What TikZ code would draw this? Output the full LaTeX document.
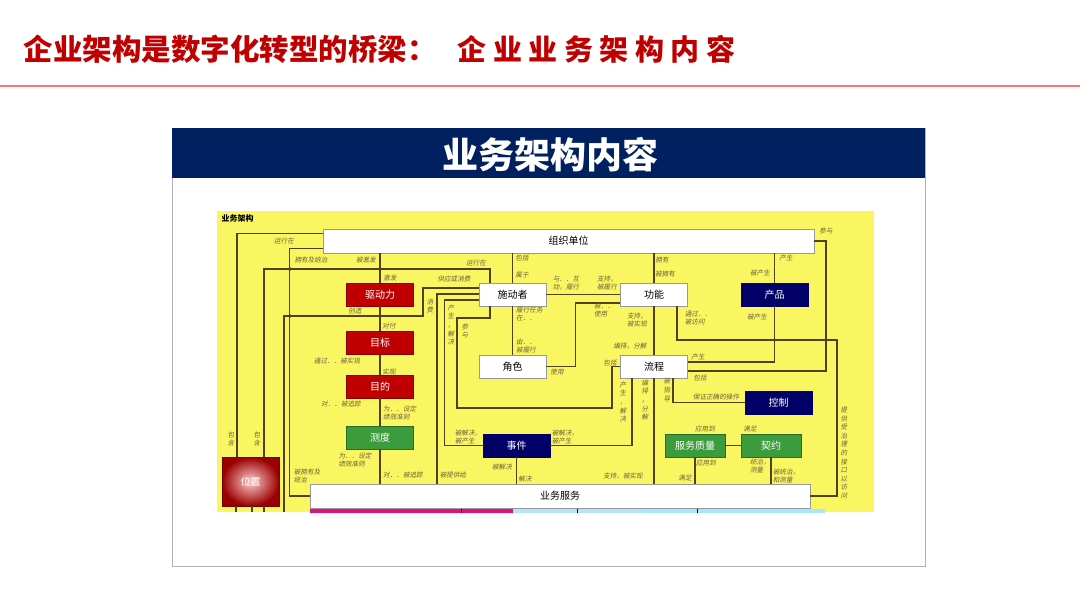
\documentclass[tikz,border=0pt]{standalone}
\usepackage{fontspec}
\setmainfont{Noto Sans CJK SC}
\newfontfamily\cjk{Noto Sans CJK SC}
\newfontfamily\cjkit[FakeSlant=0.18]{Noto Sans CJK SC}
\definecolor{titlered}{RGB}{192,0,0}
\definecolor{headnavy}{RGB}{0,32,96}
\definecolor{bgyellow}{RGB}{250,246,98}
\definecolor{boxred}{RGB}{192,0,0}
\definecolor{boxnavy}{RGB}{0,0,102}
\definecolor{boxgreen}{RGB}{60,155,60}
\definecolor{linec}{RGB}{80,65,25}
\definecolor{lblc}{RGB}{110,95,60}

\begin{document}
\begin{tikzpicture}[x=1pt, y=-1pt,
    box/.style={draw, minimum width=67pt, minimum height=23pt, inner sep=0pt, font=\cjk\fontsize{10}{12}\selectfont},
    whitebox/.style={box, fill=white, draw=gray!80},
    redbox/.style={box, fill=boxred, draw=boxred!70!black, text=white},
    navybox/.style={box, fill=boxnavy, draw=boxnavy, text=white},
    greenbox/.style={box, fill=boxgreen, draw=boxgreen!70!black, text=white},
    lbl/.style={font=\cjkit\fontsize{6.6}{7.6}\selectfont, text=lblc, inner sep=0pt, align=center},
    vlbl/.style={lbl, font=\cjkit\fontsize{6.6}{8.6}\selectfont},
    conn/.style={draw=linec, line width=1.2pt}]
            \useasboundingbox (0,0) rectangle (1080,608);
            \fill[white] (0,0) rectangle (1080,608);

            \node[anchor=west, text=titlered, font=\cjk\bfseries\fontsize{29.5}{32}\selectfont] (title) at (20,49) {企业架构是数字化转型的桥梁：};
            \node[anchor=west, text=titlered, font=\cjk\bfseries\fontsize{29}{32}\selectfont] (subtitle) at (454,49) {\spaceskip=6.5pt 企 业 业 务 架 构 内 容};
            \draw[red!55, line width=1.5pt] (0,86) -- (1080,86);

            \draw[gray!60, line width=0.8pt] (172,128) rectangle (925,566);
            \fill[headnavy] (172,128) rectangle (925,178);
            \node[text=white, font=\cjk\bfseries\fontsize{36}{40}\selectfont] (head) at (550,155) {业务架构内容};
            \fill[bgyellow] (217,211) rectangle (874,512);
            \node[anchor=west, font=\cjk\bfseries\fontsize{8}{9}\selectfont] (area) at (218,218) {业务架构};

            \node[whitebox, minimum width=491pt, minimum height=24pt] (org) at (568.5,241) {组织单位};
            \node[redbox] (drv) at (380,294.5) {驱动力};
            \node[whitebox] (act) at (512.5,294.5) {施动者};
            \node[whitebox] (fun) at (654,294.5) {功能};
            \node[navybox] (prd) at (774.5,294.5) {产品};
            \node[redbox] (gol) at (380,343) {目标};
            \node[redbox] (obj) at (380,386.5) {目的};
            \node[whitebox] (rol) at (512.5,366.5) {角色};
            \node[whitebox] (prc) at (654,366.5) {流程};
            \node[navybox] (ctl) at (778.5,402.5) {控制};
            \node[greenbox] (msr) at (380,437.5) {测度};
            \node[navybox] (evt) at (516.5,445.5) {事件};
            \node[greenbox, minimum width=60pt] (qos) at (695,445.5) {服务质量};
            \node[greenbox, minimum width=60pt] (ctr) at (771,445.5) {契约};
            \node[whitebox, minimum width=500pt, minimum height=24pt] (bsv) at (560,496) {业务服务};
            \node[box, minimum width=57pt, minimum height=49pt, shading=radial, inner color=white!80!red, outer color=boxred!80!black, draw=boxred!60!black, text=white] (loc) at (250.5,481.5) {位置};

            \fill[magenta!75!purple] (310,508.5) rectangle (513,512.5);
            \fill[cyan!30] (513,508.5) rectangle (640,512.5);
            \fill[blue!25!cyan!35] (640,508.5) rectangle (825,512.5);
            \foreach \x in {461,577,697}
            {
                \draw[black, line width=1pt] (\x,508.5) -- (\x,512.5);
            }

            \draw[conn] ([yshift=-5pt]org.north west) -| ([xshift=-13.5pt]loc.north);
            \draw[conn] ([yshift=5pt]org.south west) -| ([xshift=-20pt]bsv.west) -- (bsv.west);
            \draw[conn] ([xshift=-22.5pt]act.north) |- (264,269) -- ([xshift=13.5pt]loc.north);
            \draw[conn] (drv.north |- org.south) -- (drv.north);
            \draw[conn] (drv) -- (gol);
            \draw[conn] (gol) -- (obj);
            \draw[conn] (obj) -- (msr);
            \draw[conn] (msr.south) -- (msr.south |- bsv.north);
            \draw[conn] ([yshift=6.5pt]act.west) -| (423,316) -| (284,512);
            \draw[conn] ([yshift=0.5pt]act.west) -| (437,0 |- bsv.north);
            \draw[conn] ([yshift=-5.5pt]act.west) -| ([xshift=-38pt]evt.west) -- (evt.west);
            \draw[conn] ([xshift=-22.5pt]act.south) |- (457,318) |- (612,408) |- (prc.west);
            \draw[conn] (act.north |- org.south) -- (act.north);
            \draw[conn] (act) -- (rol);
            \draw[conn] (act) -- (fun);
            \draw[conn] (rol.east) -| ([xshift=-45pt,yshift=-8.5pt]fun.west) -- ([yshift=-8.5pt]fun.west);
            \draw[conn] (fun.north |- org.south) -- (fun.north);
            \draw[conn] (fun) -- (prc);
            \draw[conn] ([xshift=23pt]fun.south) |- (837,340) |- (bsv.east);
            \draw[conn] (prd.north |- org.south) -- (prd.north);
            \draw[conn] (prd.south) |- ([yshift=4.5pt]prc.east);
            \draw[conn] (org.east) -| (826,371) -- ([yshift=-4.5pt]prc.east);
            \draw[conn] ([xshift=19pt]prc.south) |- (ctl.west);
            \draw[conn] ([xshift=-22pt]prc.south) |- (evt.east);
            \draw[conn] (prc.south) -- (prc.south |- bsv.north);
            \draw[conn] (evt.south) -- (evt.south |- bsv.north);
            \draw[conn] (qos) -- (ctr);
            \draw[conn] (qos.south) -- (qos.south |- bsv.north);
            \draw[conn] (ctr.south) -- (ctr.south |- bsv.north);
            \foreach \dx in {-14.5,1.5,13.5}
            {
                \draw[conn] ([xshift=\dx pt]loc.south) -- ++(0,5.5);
            }
            \foreach \p in {{290,269},{380,269},{290,316},{380,316},{774.5,340},{826,340}}
            {
                \fill[linec] (\p) circle (1.8);
            }

            \node[lbl] (t1) at (284,241) {运行在};
            \node[lbl] (t2) at (311,260) {拥有及统治};
            \node[lbl] (t3) at (366,260) {被激发};
            \node[lbl] (t4) at (390,278) {激发};
            \node[lbl] (t5) at (454,279) {供应或消费};
            \node[lbl] (t6) at (476,263) {运行在};
            \node[lbl] (t7) at (522,258) {包括};
            \node[lbl] (t8) at (522,275) {属于};
            \node[lbl, align=left] (t9) at (566,283) {与．．互\\动，履行};
            \node[lbl, align=left] (t10) at (607,283) {支持，\\被履行};
            \node[lbl] (t11) at (662,260) {拥有};
            \node[lbl] (t12) at (665,274) {被拥有};
            \node[lbl] (t13) at (786,258) {产生};
            \node[lbl] (t14) at (760,273) {被产生};
            \node[lbl] (t15) at (826,231) {参与};
            \node[lbl] (t16) at (355,311) {创造};
            \node[vlbl] (t17) at (430,306) {消\\费};
            \node[lbl] (t18) at (389,326) {对付};
            \node[vlbl] (t19) at (451,325) {产\\生\\，\\解\\决};
            \node[vlbl] (t20) at (465,331) {参\\与};
            \node[lbl, align=left, anchor=west] (t21) at (516,314) {履行任务\\在．．};
            \node[lbl, align=left] (t22) at (604,310) {被．．\\使用};
            \node[lbl, align=left] (t23) at (637,320) {支持，\\被实现};
            \node[lbl, align=left] (t24) at (698,318) {通过．．\\被访问};
            \node[lbl] (t25) at (757,317) {被产生};
            \node[lbl, align=left, anchor=west] (t26) at (516,346) {由．．\\被履行};
            \node[lbl] (t27) at (337,361) {通过．．被实现};
            \node[lbl] (t28) at (389,372) {实现};
            \node[lbl] (t29) at (630,346) {编排，分解};
            \node[lbl] (t30) at (610,363) {包括};
            \node[lbl] (t31) at (698,357) {产生};
            \node[lbl] (t32) at (700,378) {包括};
            \node[lbl] (t33) at (557,372) {使用};
            \node[vlbl] (t34) at (667,390) {被\\指\\导};
            \node[lbl] (t35) at (716,397) {保证正确的操作};
            \node[vlbl] (t36) at (623,402) {产\\生\\，\\解\\决};
            \node[vlbl] (t37) at (645,400) {编\\排\\，\\分\\解};
            \node[lbl] (t38) at (341,404) {对．．被追踪};
            \node[lbl, align=left, anchor=west] (t39) at (383,413) {为．．设定\\绩效准则};
            \node[vlbl] (t40) at (844,453) {提\\供\\受\\治\\理\\的\\接\\口\\以\\访\\问};
            \node[vlbl] (t41) at (231,439) {包\\含};
            \node[vlbl] (t42) at (257,439) {包\\含};
            \node[lbl, align=left] (t43) at (468,437) {被解决，\\被产生};
            \node[lbl, align=left] (t44) at (565,437) {被解决，\\被产生};
            \node[lbl] (t45) at (705,429) {应用到};
            \node[lbl] (t46) at (750,429) {满足};
            \node[lbl, align=left] (t47) at (355,460) {为．．设定\\绩效准则};
            \node[lbl] (t48) at (706,463) {应用到};
            \node[lbl, align=left] (t49) at (760,466) {统治，\\测量};
            \node[lbl] (t50) at (502,467) {被解决};
            \node[lbl, align=left] (t51) at (307,476) {被拥有及\\统治};
            \node[lbl, anchor=west] (t52) at (383,475) {对．．被追踪};
            \node[lbl] (t53) at (453,475) {被提供给};
            \node[lbl] (t54) at (623,476) {支持，被实现};
            \node[lbl] (t55) at (685,478) {满足};
            \node[lbl, align=left] (t56) at (786,476) {被统治，\\和测量};
            \node[lbl] (t57) at (525,479) {解决};
\end{tikzpicture}
\end{document}
